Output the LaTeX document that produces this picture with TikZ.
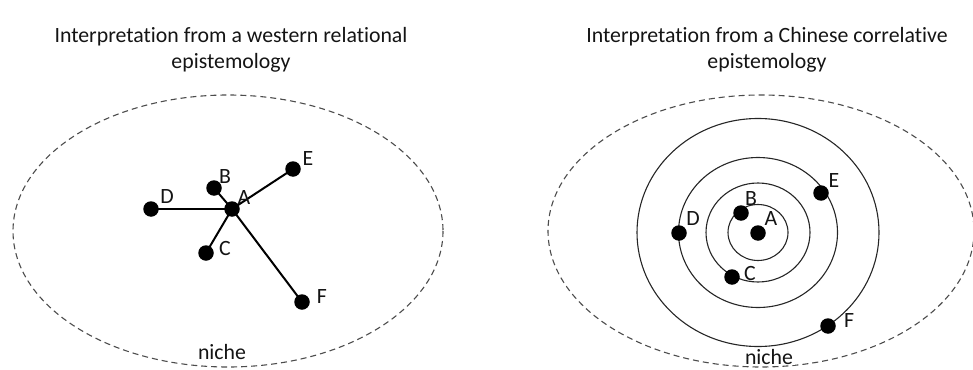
\documentclass[tikz,border=0pt]{standalone}
\usepackage{fontspec}
\setmainfont{Carlito}[Ligatures=CommonOff]
\begin{document}
\begin{tikzpicture}[x=1pt,y=-1pt,
  every node/.style={font=\fontsize{21.8}{26.5}\selectfont, text=black!92},
  dot/.style={circle, fill=black, inner sep=0pt, minimum size=15.5pt},
  lbl/.style={inner sep=0pt},
  niche/.style={draw=black!70, dashed, dash pattern=on 6pt off 4pt, line width=1.1pt},
  link/.style={draw=black, line width=2pt},
  ring/.style={draw=black!85, line width=1.1pt},
  title/.style={align=center, inner sep=0pt}]
\useasboundingbox (0,0) rectangle (973,369);

% ---- left panel: relational network ----
\node[title] (t1) at (231,50) {Interpretation from a western relational\\epistemology};
\draw[niche] (228,231) ellipse [x radius=215, y radius=136];
\node[lbl] (n1) at (222,352) {niche};

\node[dot] (A1) at (232,209) {};
\node[dot] (B1) at (214,188) {};
\node[dot] (C1) at (206,253) {};
\node[dot] (D1) at (151,209) {};
\node[dot] (E1) at (293,169) {};
\node[dot] (F1) at (302,302) {};
\foreach \n in {B1,C1,D1,E1,F1} \draw[link] (A1.center) -- (\n.center);

\node[lbl] (lA1) at (244,198) {A};
\node[lbl] (lB1) at (225,177) {B};
\node[lbl] (lC1) at (225,248) {C};
\node[lbl] (lD1) at (167,197) {D};
\node[lbl] (lE1) at (308,159) {E};
\node[lbl] (lF1) at (322,297) {F};

% ---- right panel: correlative rings ----
\node[title] (t2) at (767,50) {Interpretation from a Chinese correlative\\epistemology};
\draw[niche] (761,231) ellipse [x radius=213, y radius=136];
\node[lbl, fill=white, inner xsep=2pt] (n2) at (769,357) {niche};

\coordinate (O) at (758,232.5);
\draw[ring] (O) ellipse [x radius=30, y radius=28];
\draw[ring] (O) ellipse [x radius=52, y radius=49.5];
\draw[ring] (O) ellipse [x radius=79.5, y radius=75];
\draw[ring] (O) ellipse [x radius=121, y radius=114];

\node[dot] (A2) at (758,233) {};
\node[dot] (B2) at (741,213) {};
\node[dot] (C2) at (732,277) {};
\node[dot] (D2) at (679,233) {};
\node[dot] (E2) at (821,193) {};
\node[dot] (F2) at (828,326) {};

\node[lbl] (lA2) at (771,219) {A};
\node[lbl] (lB2) at (751,199) {B};
\node[lbl] (lC2) at (750,273) {C};
\node[lbl] (lD2) at (693,219) {D};
\node[lbl] (lE2) at (834,181) {E};
\node[lbl] (lF2) at (849,321) {F};
\end{tikzpicture}
\end{document}
